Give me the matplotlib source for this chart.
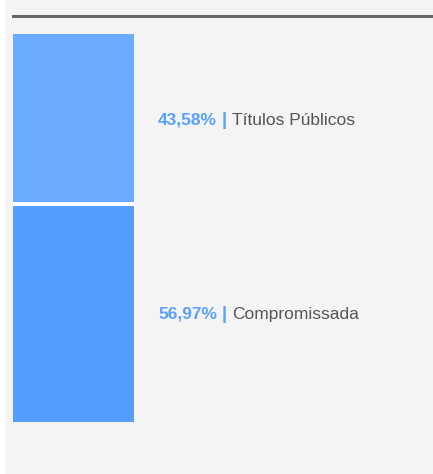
import matplotlib.pyplot as plt
from matplotlib.patches import Rectangle
from matplotlib.lines import Line2D
from matplotlib import transforms

categories = ["Títulos Públicos", "Compromissada"]
values = [43.58, 56.97]
labels = ["43,58%", "56,97%"]
bar_colors = ["#6aaaff", "#559dff"]

W, H = 433, 474
DPI = 100
fig = plt.figure(figsize=(W / DPI, H / DPI), dpi=DPI, facecolor="white")
plt.rcParams["font.family"] = ["Liberation Sans", "DejaVu Sans"]

# gray panel and top rule
fig.patches.append(Rectangle((5 / W, 0), 1 - 5 / W, 1, transform=fig.transFigure,
                             facecolor="#f4f4f4", edgecolor="none", zorder=-10))
fig.lines.append(Line2D([13 / W, 1], [1 - 15.5 / H, 1 - 15.5 / H],
                        transform=fig.transFigure, color="#666666", linewidth=2.2))

# axes that hold the bar only
x0, x1, y0, y1 = 13, 134, 34, 422
ax = fig.add_axes([x0 / W, 1 - y1 / H, (x1 - x0) / W, (y1 - y0) / H])
ax.set_facecolor("none")
for s in ax.spines.values():
    s.set_visible(False)
ax.set_xticks([])
ax.set_yticks([])

bottom = 0
mids = []
for v, c in zip(values, bar_colors):
    ax.bar(0, v, bottom=bottom, width=1, color=c, edgecolor="none", align="center")
    mids.append(bottom + v / 2)
    bottom += v
ax.set_xlim(-0.5, 0.5)
ax.set_ylim(bottom, 0)

# white separators between segments
acc = 0
for v in values[:-1]:
    acc += v
    ax.axhline(acc + 0.4, color="white", linewidth=2.9)

fig.canvas.draw()
renderer = fig.canvas.get_renderer()
blend = transforms.blended_transform_factory(fig.transFigure, ax.transData)
blend = transforms.offset_copy(blend, fig=fig, y=-2, units="dots")
fs = 12.5
for lab, cat, m in zip(labels, categories, mids):
    t1 = ax.text(158 / W, m, lab, transform=blend, fontsize=fs, fontweight="bold",
                 color="#5aa0ff", va="center", ha="left", clip_on=False)
    bb = t1.get_window_extent(renderer)
    t2 = ax.text(bb.x1 / W + 5 / W, m, "|", transform=blend, fontsize=fs + 1,
                 fontweight="bold", color="#5aa0ff", va="center", ha="left",
                 clip_on=False)
    bb2 = t2.get_window_extent(renderer)
    ax.text(bb2.x1 / W + 5 / W, m, cat, transform=blend, fontsize=fs,
            color="#555555", va="center", ha="left", clip_on=False)

fig.savefig("out.png", dpi=DPI, facecolor=fig.get_facecolor())
